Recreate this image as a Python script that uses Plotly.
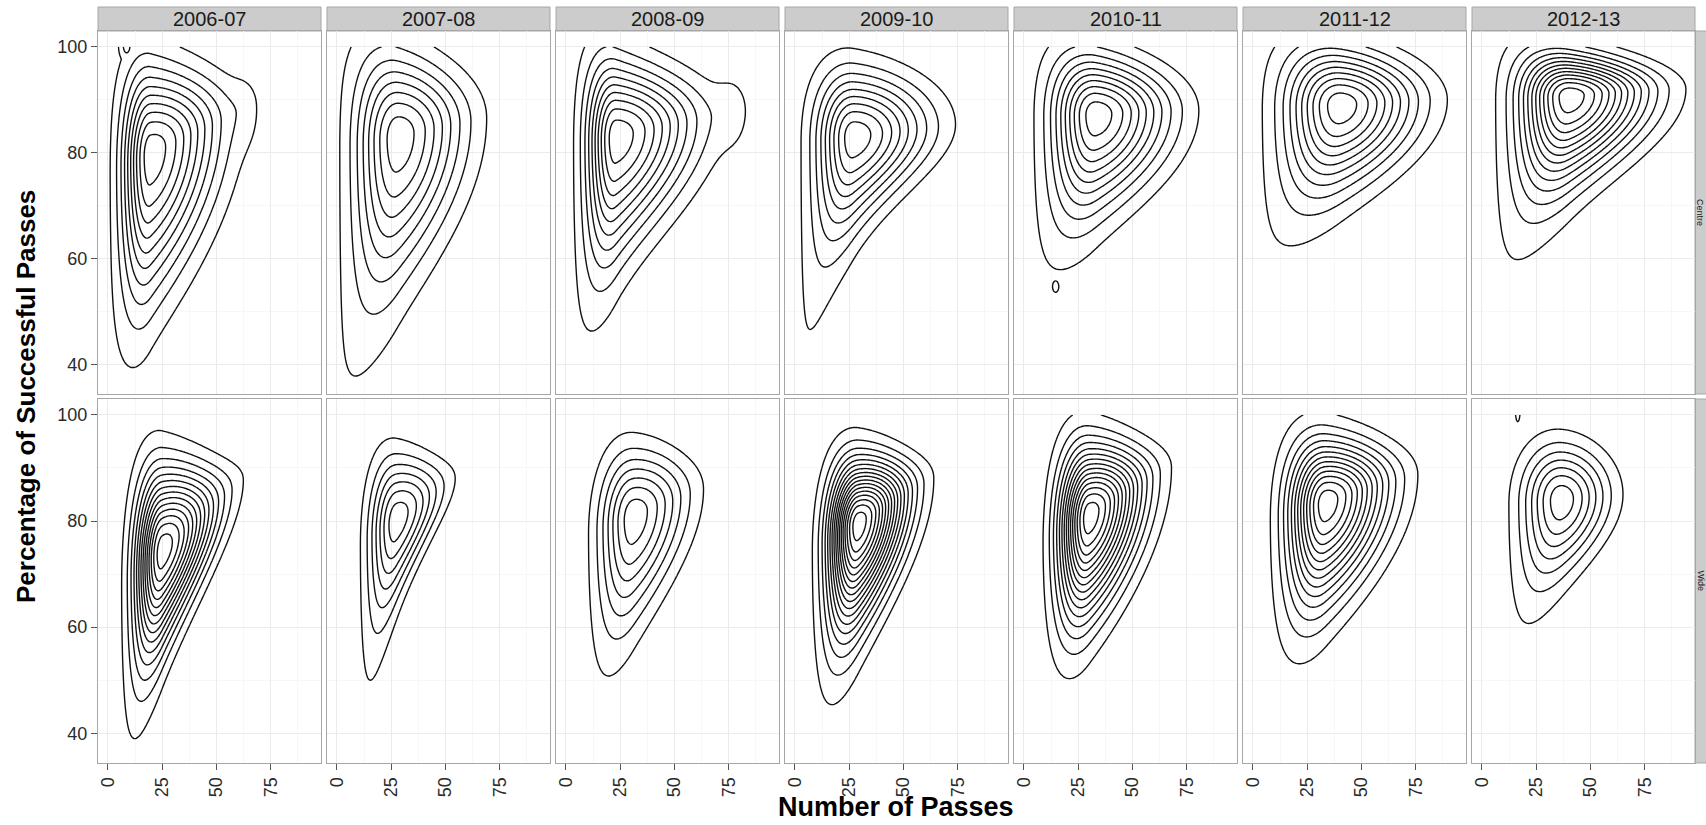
import numpy as np
import plotly.graph_objects as go

W, H = 1706, 825

seasons = ["2006-07", "2007-08", "2008-09", "2009-10", "2010-11", "2011-12", "2012-13"]
positions = ["Centre", "Wide"]

# Landmarks of each panel's density; order: Centre row then Wide row
peak_x   = [19.6, 28.0, 23.0, 27.0, 33.0, 40.0, 40.0,   25.0, 27.3, 31.0, 29.0, 30.0, 33.5, 36.4]
peak_y   = [79.8, 83.0, 83.0, 83.0, 87.2, 89.0, 90.7,   74.4, 80.2, 80.8, 79.5, 81.0, 83.5, 84.0]
left_x   = [1.0, 1.3, 3.5, 2.8, 4.6, 4.3, 6.3,          6.3, 10.8, 10.4, 8.0, 8.8, 8.0, 12.4]
right_x  = [64.0, 69.0, 74.0, 74.0, 80.6, 89.6, 94.0,   62.4, 54.5, 63.4, 64.0, 68.0, 76.0, 65.0]
right_y  = [88.0, 86.5, 87.0, 85.3, 88.0, 90.0, 92.0,   87.7, 88.0, 86.0, 88.0, 90.0, 88.7, 85.0]
tip_x    = [11.5, 8.4, 11.8, 7.0, 16.9, 17.4, 16.5,     12.4, 15.4, 19.7, 17.0, 21.0, 21.4, 21.6]
tip_y    = [39.4, 37.8, 46.3, 46.6, 57.9, 62.4, 59.8,   39.0, 50.0, 50.8, 45.4, 50.3, 53.1, 60.7]
top_y    = [102.3, 103.5, 103.0, 99.7, 102.5, 103.5, 102.3, 97.0, 95.6, 96.7, 97.6, 100.6, 100.5, 97.3]
top_bend = [0.5, 0.5, 0.5, 0.15, 0.5, 0.5, 0.5,         0.15, 0.1, 0.1, 0.15, 0.4, 0.4, 0.1]
n_levels = [10, 8, 10, 9, 10, 10, 13,                   14, 7, 7, 17, 15, 13, 7]

# small isolated contour pieces (level given in multiples of the lowest contour level)
bump_panel = [0, 4, 13]
bump_x     = [8.6, 14.6, 16.5]
bump_y     = [100.2, 54.7, 100.6]
bump_sx    = [2.9, 2.0, 1.45]
bump_sy    = [2.5, 1.5, 2.6]
bump_level = [2.3, 1.3, 1.3]

# outer-contour lobes on the right-hand side (added to the density)
lobe_panel = [0, 2]
lobe_x     = [64.0, 77.5]
lobe_y     = [88.0, 88.0]
lobe_sx    = [5.0, 6.0]
lobe_sy    = [5.0, 5.5]
lobe_level = [0.6, 0.85]

x_ticks = [0, 25, 50, 75]
y_ticks = [40, 60, 80, 100]


def panel_density(i, X, Y):
    xm, y0 = peak_x[i], peak_y[i]
    xl, xr, yr = left_x[i], right_x[i], right_y[i]
    xb, yb, yt, n = tip_x[i], tip_y[i], top_y[i], n_levels[i]
    L = 1.0 / (n + 0.6)
    c = np.sqrt(-2 * np.log(L))
    sxl = (xm - xl) / c
    sxr = (xr - xm) / c
    b = (yr - y0) / (xr - xm)
    # fit lower spread so that the outer contour's lowest point is the tip
    xs = np.linspace(xl, xm, 600)[1:]
    root = np.sqrt(np.clip(c ** 2 - ((xm - xs) / sxl) ** 2, 0, None))
    mu_s = y0 + b * (xs - xm)
    mu_b = y0 + b * (xb - xm)
    rootb = np.sqrt(max(c ** 2 - ((xm - xb) / sxl) ** 2, 1e-6))
    best = None
    for p in np.linspace(0, 3, 301):
        sdn = (mu_b - yb) / ((xm / xb) ** p * rootb)
        ybot = mu_s - sdn * (xm / xs) ** p * root
        err = yb - ybot.min()
        if best is None or err < best[0]:
            best = (err, p, sdn)
    _, p, sdn = best
    q = top_bend[i] * p
    sx = np.where(X < xm, sxl, sxr)
    gx = np.exp(-0.5 * ((X - xm) / sx) ** 2)
    mu = y0 + b * (X - xm)
    ratio = xm / np.maximum(X, 1.5)
    s_dn = sdn * ratio ** p
    s_up = np.maximum(yt - mu, 2.0) / c * ratio ** q
    s = np.where(Y < mu, s_dn, s_up)
    z = gx * np.exp(-0.5 * ((Y - mu) / s) ** 2)
    for j, pi in enumerate(lobe_panel):
        if pi == i:
            z = z + lobe_level[j] * L * np.exp(-0.5 * (((X - lobe_x[j]) / lobe_sx[j]) ** 2
                                                       + ((Y - lobe_y[j]) / lobe_sy[j]) ** 2))
    for j, pi in enumerate(bump_panel):
        if pi == i:
            bump = bump_level[j] * L * np.exp(-0.5 * (((X - bump_x[j]) / bump_sx[j]) ** 2
                                                      + ((Y - bump_y[j]) / bump_sy[j]) ** 2))
            z = np.maximum(z, bump)
    return z, L, n


gx_vals = np.arange(0, 95.01, 0.5)
gy_vals = np.arange(28, 100.001, 0.35)
gy_vals = np.append(gy_vals[gy_vals < 99.99], 100.0)
GX, GY = np.meshgrid(gx_vals, gy_vals)

fig = go.Figure()


def fx(px):
    return px / W


def fy(py):
    return 1 - py / H


col_left = [98 + 229 * k for k in range(7)]
col_w = 223
row_top = [31, 399]
row_bot = [394, 763]

x_range = [-4.6, 98.2]
y_range = [34.4, 103.0]

border = "#a6a6a6"
tick_font = dict(family="Liberation Sans, Arial", size=18, color="#2b2b2b")
for r in range(2):
    for k in range(7):
        i = r * 7 + k
        idx = i + 1
        sfx = str(idx) if idx > 1 else ""
        z, L, n = panel_density(i, GX, GY)
        fig.add_trace(go.Contour(
            x=gx_vals, y=np.round(gy_vals, 3), z=np.round(z, 5),
            contours=dict(start=L, end=n * L + 1e-9, size=L, coloring="lines"),
            colorscale=[[0, "#111111"], [1, "#111111"]],
            line=dict(width=1.4, smoothing=1.0),
            showscale=False, hoverinfo="skip",
            xaxis="x" + sfx, yaxis="y" + sfx,
        ))
        fig.layout["xaxis" + sfx] = dict(
            domain=[fx(col_left[k]), fx(col_left[k] + col_w)],
            range=x_range, anchor="y" + sfx,
            tickvals=x_ticks, ticktext=[str(v) for v in x_ticks],
            showticklabels=(r == 1), ticks="outside" if r == 1 else "",
            ticklen=6, tickcolor="#555555", tickwidth=1,
            tickangle=-90, tickfont=tick_font,
            showgrid=True, gridcolor="#ebebeb", gridwidth=1,
            minor=dict(tickvals=[12.5, 37.5, 62.5, 87.5], showgrid=True, gridcolor="#f7f7f7", gridwidth=1, ticks=""),
            showline=True, mirror=True, linecolor=border, linewidth=1.2,
            zeroline=False, fixedrange=True,
        )
        fig.layout["yaxis" + sfx] = dict(
            domain=[fy(row_bot[r]), fy(row_top[r])],
            range=y_range, anchor="x" + sfx,
            tickvals=y_ticks, ticktext=[str(v) for v in y_ticks],
            showticklabels=(k == 0), ticks="outside" if k == 0 else "",
            ticklen=6, tickcolor="#555555", tickwidth=1,
            tickfont=tick_font,
            showgrid=True, gridcolor="#ebebeb", gridwidth=1,
            minor=dict(tickvals=[50, 70, 90], showgrid=True, gridcolor="#f7f7f7", gridwidth=1, ticks=""),
            showline=True, mirror=True, linecolor=border, linewidth=1.2,
            zeroline=False, fixedrange=True,
        )

shapes = []
annotations = []
# top strips
for k in range(7):
    shapes.append(dict(type="rect", xref="paper", yref="paper",
                       x0=fx(col_left[k]), x1=fx(col_left[k] + col_w), y0=fy(31), y1=fy(7),
                       fillcolor="#cccccc", line=dict(color=border, width=1), layer="below"))
    annotations.append(dict(text=seasons[k], xref="paper", yref="paper",
                            x=fx(col_left[k] + col_w / 2), y=fy(19), xanchor="center", yanchor="middle",
                            showarrow=False, font=dict(family="Liberation Sans, Arial", size=20, color="#1a1a1a")))
# right strips
for r in range(2):
    shapes.append(dict(type="rect", xref="paper", yref="paper",
                       x0=fx(1695), x1=fx(1720), y0=fy(row_bot[r]), y1=fy(row_top[r]),
                       fillcolor="#cccccc", line=dict(color=border, width=1), layer="below"))
    annotations.append(dict(text=positions[r], xref="paper", yref="paper",
                            x=fx(1700.5), y=fy((row_top[r] + row_bot[r]) / 2), xanchor="center", yanchor="middle",
                            textangle=90, showarrow=False,
                            font=dict(family="Liberation Sans, Arial", size=9, color="#1a1a1a")))

annotations.append(dict(text="<b>Number of Passes</b>", xref="paper", yref="paper",
                        x=fx(896), y=fy(807), xanchor="center", yanchor="middle", showarrow=False,
                        font=dict(family="Liberation Sans, Arial", size=27, color="#000000")))
annotations.append(dict(text="<b>Percentage of Successful Passes</b>", xref="paper", yref="paper",
                        x=fx(26), y=fy(397), xanchor="center", yanchor="middle", showarrow=False, textangle=-90,
                        font=dict(family="Liberation Sans, Arial", size=26, color="#000000")))

fig.update_layout(
    width=W, height=H, margin=dict(l=0, r=0, t=0, b=0),
    paper_bgcolor="white", plot_bgcolor="white",
    showlegend=False, shapes=shapes, annotations=annotations,
    font=dict(family="Liberation Sans, Arial"),
)

fig.write_html("out.html", config={"displayModeBar": False})
